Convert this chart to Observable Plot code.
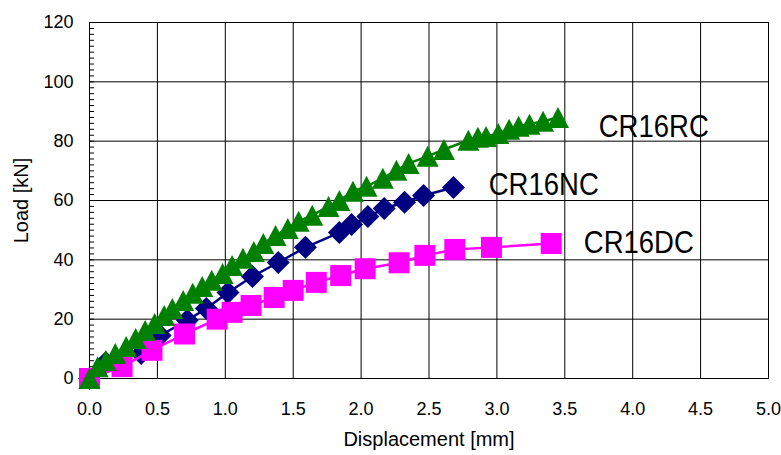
<!DOCTYPE html>
<html>
<head>
<meta charset="utf-8">
<script src="https://cdn.jsdelivr.net/npm/d3@7"></script>
<script src="https://cdn.jsdelivr.net/npm/@observablehq/plot@0.6"></script>
<style>
  html, body { margin: 0; padding: 0; background: #fff; }
  #chart svg { display: block; }
</style>
</head>
<body>
<div id="chart"></div>
<script>
// ---- data (displacement mm, load kN) ----
const seriesNames = ["CR16NC", "CR16DC", "CR16RC"];
const seriesColors = ["#000080", "#FF00FF", "#008000"];

const cr16nc = [
  [0, 0], [0.12, 5.4], [0.38, 8.4], [0.52, 14.5], [0.72, 19.6], [0.86, 23.6],
  [1.02, 29.0], [1.20, 34.4], [1.39, 39.1], [1.59, 44.2], [1.84, 49.2],
  [1.93, 51.9], [2.05, 54.6], [2.17, 57.3], [2.32, 59.4], [2.46, 61.7], [2.68, 64.4]
];
const cr16dc = [
  [0, 0], [0.24, 4.0], [0.46, 9.5], [0.70, 15.0], [0.94, 20.0], [1.05, 22.3],
  [1.19, 24.6], [1.36, 27.3], [1.50, 29.7], [1.67, 32.4], [1.85, 34.7],
  [2.03, 37.0], [2.28, 39.0], [2.47, 41.5], [2.69, 43.5], [2.96, 44.2], [3.40, 45.5]
];
const cr16rc = [
  [0, 0], [0.06, 4.0], [0.12, 6.1], [0.19, 8.4], [0.27, 10.8], [0.34, 13.5],
  [0.41, 16.2], [0.48, 18.5], [0.55, 21.2], [0.61, 23.6], [0.69, 26.3],
  [0.76, 28.7], [0.83, 31.0], [0.90, 33.1], [0.98, 35.4], [1.05, 38.1],
  [1.13, 40.5], [1.21, 42.8], [1.28, 45.5], [1.37, 48.2], [1.46, 50.6],
  [1.54, 53.0], [1.64, 55.0], [1.76, 58.0], [1.84, 60.0], [1.94, 63.1],
  [2.04, 64.8], [2.16, 67.5], [2.26, 70.2], [2.35, 72.5], [2.49, 74.9],
  [2.61, 77.2], [2.79, 80.3], [2.86, 81.3], [2.92, 81.6], [3.01, 82.6],
  [3.09, 84.0], [3.16, 85.0], [3.24, 85.7], [3.34, 86.7], [3.45, 88.0]
];

// series label anchor positions (data coords: displacement, load)
const labelPositions = [[2.94, 65.1], [3.64, 45.5], [3.75, 84.7]];

const xTicks = [0, 0.5, 1, 1.5, 2, 2.5, 3, 3.5, 4, 4.5, 5];
const xTickLabels = ["0.0", "0.5", "1.0", "1.5", "2.0", "2.5", "3.0", "3.5", "4.0", "4.5", "5.0"];
const yTicks = [0, 20, 40, 60, 80, 100, 120];
const yTickLabels = ["0", "20", "40", "60", "80", "100", "120"];
const yMinorTicks = d3.range(0, 121, 2);

// ---- marker symbols (box-centred, like spreadsheet markers) ----
const diamondSym = { draw(ctx) { const a = 11.5; ctx.moveTo(0, -a); ctx.lineTo(a, 0); ctx.lineTo(0, a); ctx.lineTo(-a, 0); ctx.closePath(); } };
const squareSym = { draw(ctx) { const a = 10.5; ctx.moveTo(-a, -a); ctx.lineTo(a, -a); ctx.lineTo(a, a); ctx.lineTo(-a, a); ctx.closePath(); } };
const triangleSym = { draw(ctx) { const w = 11, h = 10.5; ctx.moveTo(0, -h); ctx.lineTo(w, h); ctx.lineTo(-w, h); ctx.closePath(); } };
const symbols = [diamondSym, squareSym, triangleSym];

const seriesData = [cr16nc, cr16dc, cr16rc].map((pts, i) =>
  pts.map(([x, y]) => ({ series: seriesNames[i], x, y }))
);
const labels = seriesNames.map((name, i) => ({ name, x: labelPositions[i][0], y: labelPositions[i][1] }));

const W = 781, H = 455;
const ml = 89, mr = 13, mt = 22, mb = 77;
const plotW = W - ml - mr;

const marks = [
  Plot.ruleX(xTicks, { stroke: "#000", strokeWidth: 1 }),
  Plot.ruleY(yTicks, { stroke: "#000", strokeWidth: 1 }),
  Plot.tickY(yMinorTicks, { y: d => d, stroke: "#000", strokeWidth: 1, insetRight: plotW - 5 }),
  Plot.frame({ stroke: "#000", strokeWidth: 1 }),
  Plot.axisX(xTicks, { tickSize: 0, tickPadding: 24, tickFormat: (d, i) => xTickLabels[i], fontSize: 18,
    label: "Displacement [mm]", labelAnchor: "center", labelArrow: "none", labelOffset: 67 }),
  Plot.axisY(yTicks, { tickSize: 0, tickPadding: 16, tickFormat: (d, i) => yTickLabels[i], fontSize: 18,
    label: "Load [kN]", labelAnchor: "center", labelArrow: "none", labelOffset: 76 })
];

seriesData.forEach((data, i) => {
  marks.push(Plot.line(data, { x: "x", y: "y", stroke: seriesColors[i], strokeWidth: 2.5 }));
  marks.push(Plot.dot(data, { x: "x", y: "y", symbol: () => symbols[i], r: 10, fill: seriesColors[i], stroke: "none" }));
});

marks.push(Plot.text(labels, { x: "x", y: "y", text: "name", textAnchor: "start", fontSize: 31, fill: "#000" }));

const chart = Plot.plot({
  width: W,
  height: H,
  marginLeft: ml,
  marginRight: mr,
  marginTop: mt,
  marginBottom: mb,
  style: { fontFamily: "'Liberation Sans', Arial, sans-serif", fontSize: "18px", color: "#000", background: "#fff", overflow: "visible" },
  x: { domain: [0, 5] },
  y: { domain: [0, 120] },
  symbol: { type: "identity" },
  marks
});

// condense label text horizontally like the original
chart.querySelectorAll("text").forEach(t => {
  const s = t.textContent;
  if (seriesNames.includes(s)) {
    t.setAttribute("textLength", "110");
    t.setAttribute("lengthAdjust", "spacingAndGlyphs");
  }
  if (s === "Displacement [mm]" || s === "Load [kN]") {
    t.setAttribute("font-size", "20");
  }
});

document.getElementById("chart").appendChild(chart);
</script>
</body>
</html>
